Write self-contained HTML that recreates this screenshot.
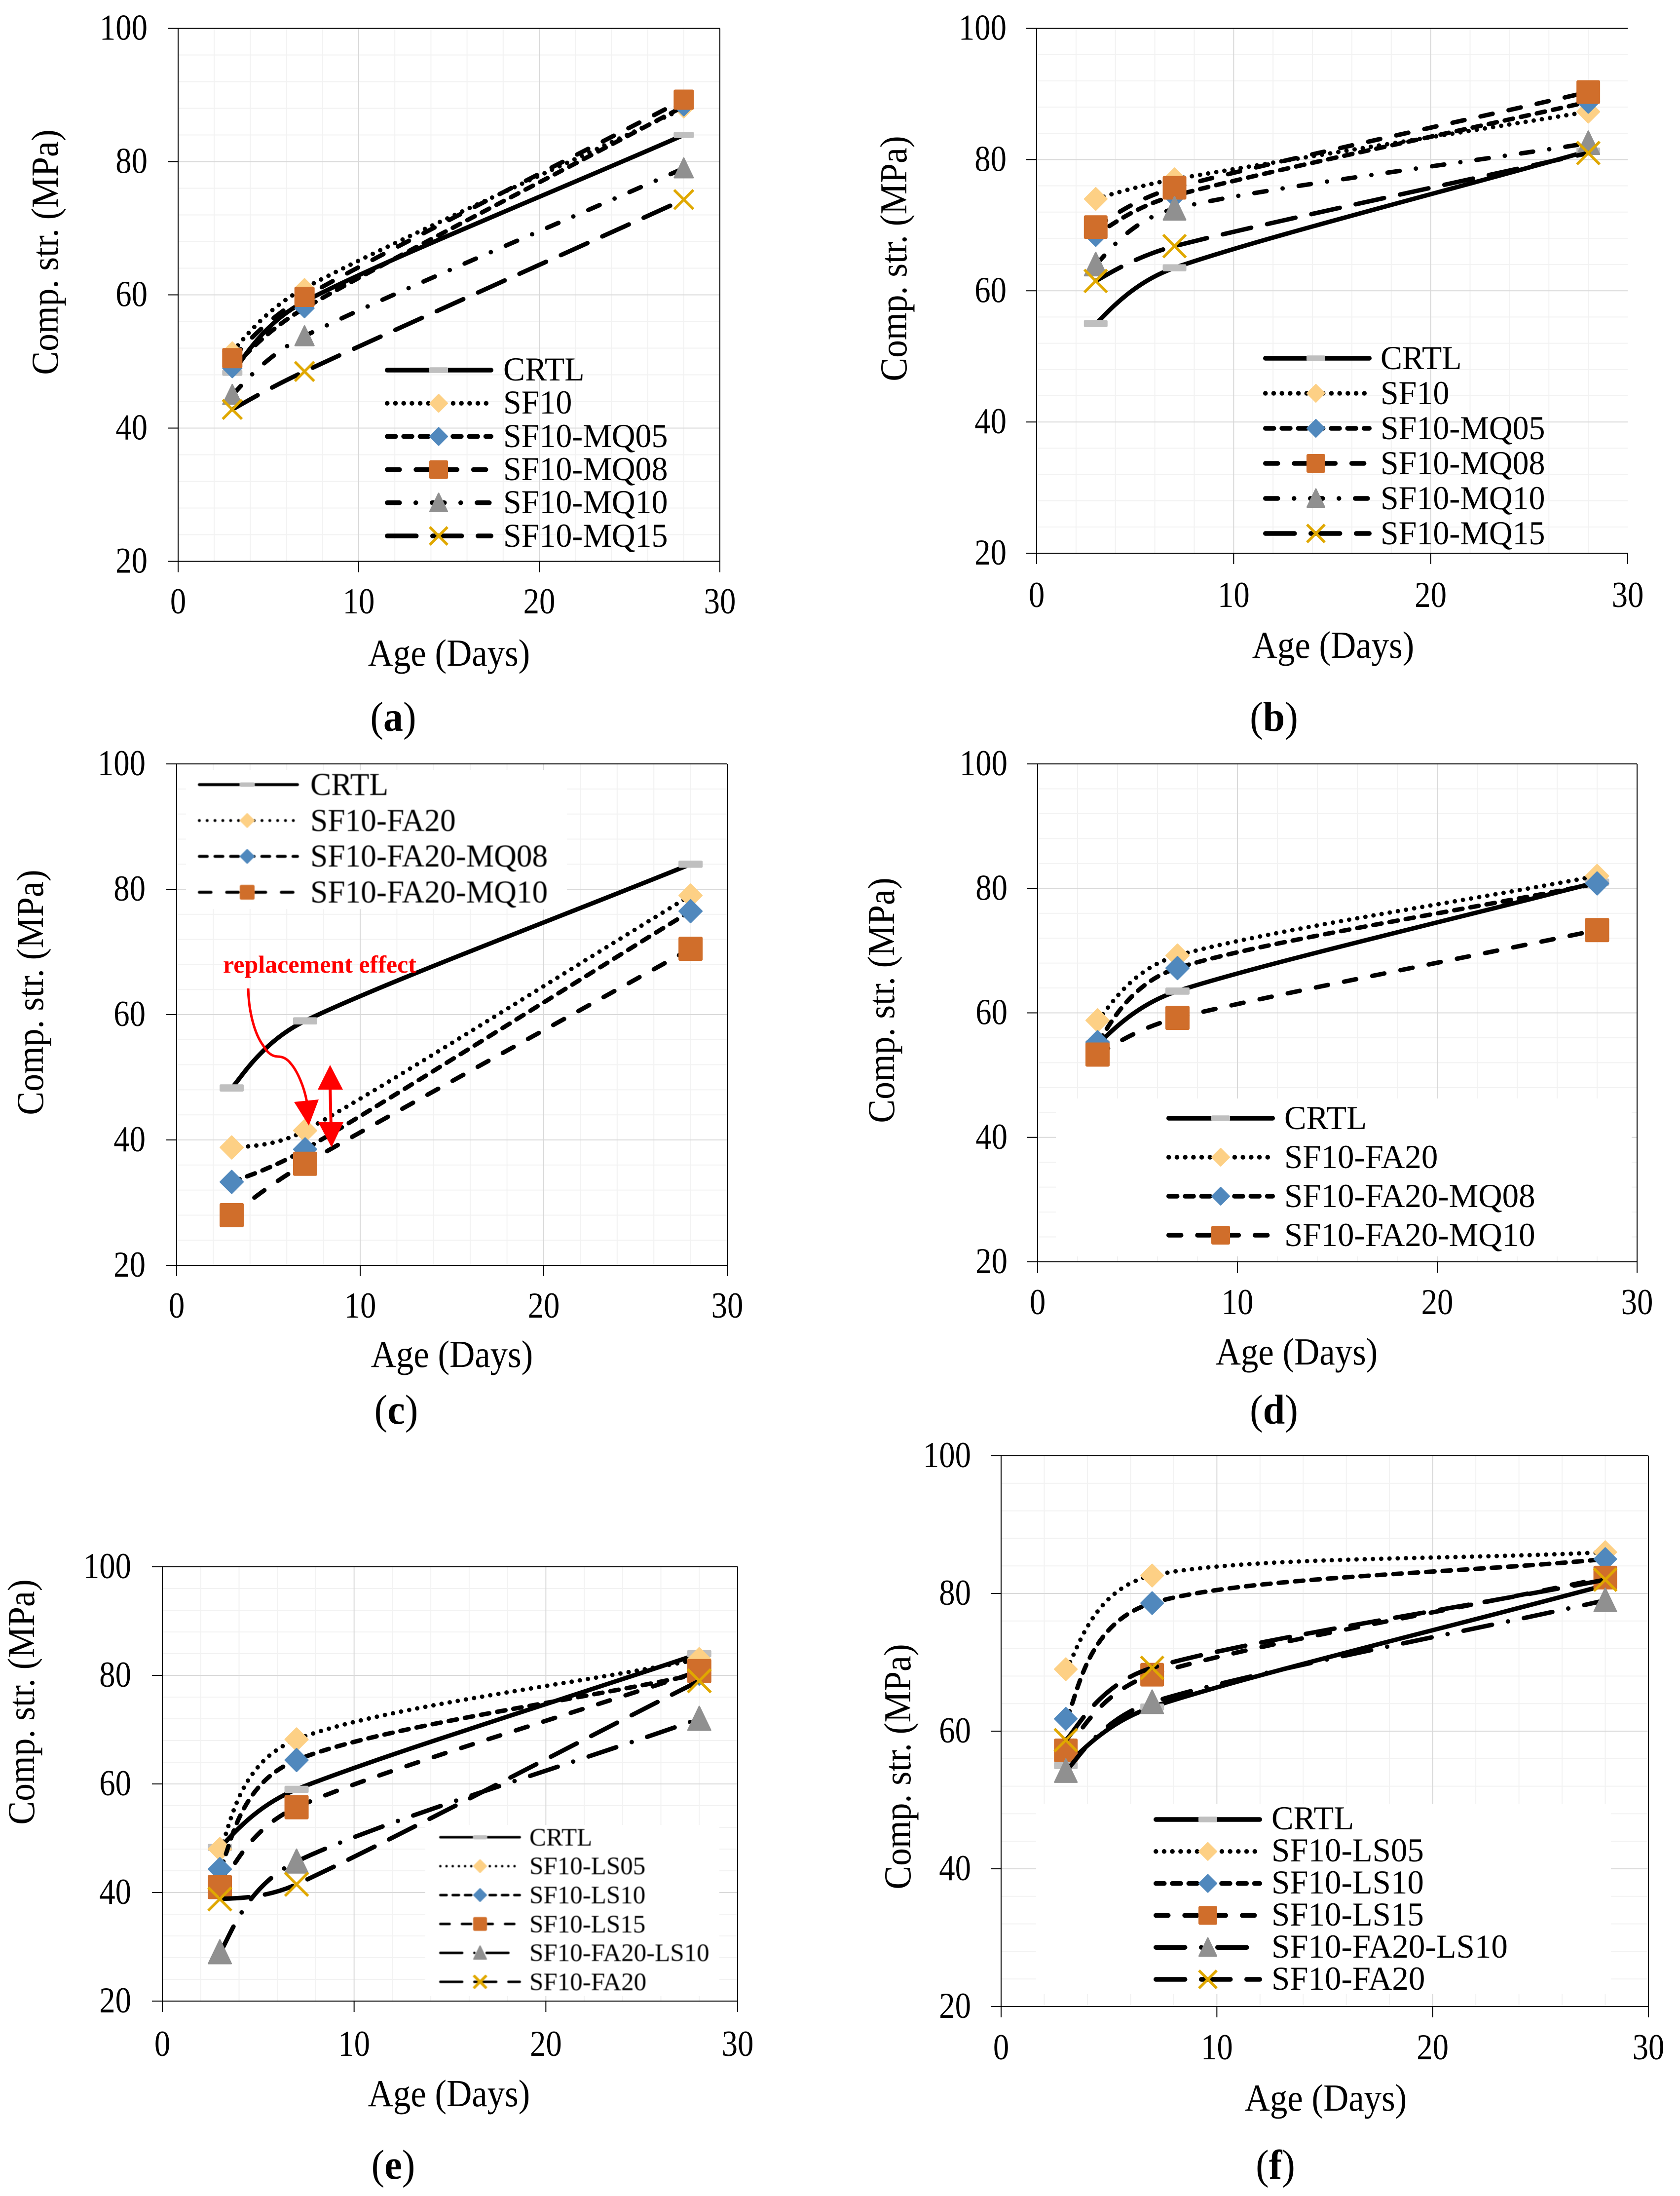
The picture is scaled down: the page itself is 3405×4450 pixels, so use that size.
<!DOCTYPE html>
<html lang="en">
<head>
<meta charset="utf-8">
<title>Compressive strength versus age</title>
<style>
html,body{margin:0;padding:0;background:#fff;}
svg{display:block;font-family:"Liberation Serif",serif;}
</style>
</head>
<body>
<svg id="figure" xmlns="http://www.w3.org/2000/svg" width="3405" height="4450" viewBox="0 0 3405 4450">
  <defs>
    <filter id="soft" x="-5%" y="-5%" width="110%" height="110%"><feGaussianBlur stdDeviation="0.9"/></filter>
  </defs>
  <rect width="3405" height="4450" fill="#ffffff"/>
  <g id="plot-a"></g>
  <g id="plot-b"></g>
  <g id="plot-c"></g>
  <g id="plot-d"></g>
  <g id="plot-e"></g>
  <g id="plot-f"></g>

  <g fill="#000">
    <text transform="translate(910 1349) scale(.92 1)" font-size="77" text-anchor="middle">Age (Days)</text>
    <text transform="translate(117 511) rotate(-90) scale(.93 1)" font-size="77" text-anchor="middle">Comp. str. (MPa)</text>
    <text transform="translate(797 1481) scale(.94 1)" font-size="85" text-anchor="middle">(<tspan font-weight="bold">a</tspan>)</text>
    <g font-size="68" transform="translate(1020 0) scale(.97 1)">
      <text y="771">CRTL</text>
      <text y="838">SF10</text>
      <text y="906">SF10-MQ05</text>
      <text y="973">SF10-MQ08</text>
      <text y="1040">SF10-MQ10</text>
      <text y="1108">SF10-MQ15</text>
    </g>
  </g>

  <g fill="#000">
    <text transform="translate(2702 1333) scale(.92 1)" font-size="77" text-anchor="middle">Age (Days)</text>
    <text transform="translate(1837 524) rotate(-90) scale(.93 1)" font-size="77" text-anchor="middle">Comp. str. (MPa)</text>
    <text transform="translate(2582 1481) scale(.94 1)" font-size="85" text-anchor="middle">(<tspan font-weight="bold">b</tspan>)</text>
    <g font-size="68" transform="translate(2798 0) scale(.97 1)">
      <text y="748">CRTL</text>
      <text y="819">SF10</text>
      <text y="890">SF10-MQ05</text>
      <text y="961">SF10-MQ08</text>
      <text y="1032">SF10-MQ10</text>
      <text y="1103">SF10-MQ15</text>
    </g>
  </g>

  <g fill="#000">
    <text transform="translate(916 2770) scale(.92 1)" font-size="77" text-anchor="middle">Age (Days)</text>
    <text transform="translate(87 2011) rotate(-90) scale(.93 1)" font-size="77" text-anchor="middle">Comp. str. (MPa)</text>
    <text transform="translate(803 2885) scale(.94 1)" font-size="85" text-anchor="middle">(<tspan font-weight="bold">c</tspan>)</text>
    <g font-size="65" transform="translate(629 0) scale(.975 1)" filter="url(#soft)">
      <text y="1611">CRTL</text>
      <text y="1684">SF10-FA20</text>
      <text y="1756">SF10-FA20-MQ08</text>
      <text y="1829">SF10-FA20-MQ10</text>
    </g>
    <text x="452" y="1971" font-size="50" font-weight="bold" fill="#ff0000">replacement effect</text>
  </g>

  <g fill="#000">
    <text transform="translate(2628 2765) scale(.92 1)" font-size="77" text-anchor="middle">Age (Days)</text>
    <text transform="translate(1812 2027) rotate(-90) scale(.93 1)" font-size="77" text-anchor="middle">Comp. str. (MPa)</text>
    <text transform="translate(2582 2885) scale(.94 1)" font-size="85" text-anchor="middle">(<tspan font-weight="bold">d</tspan>)</text>
    <g font-size="68" transform="translate(2603 0) scale(.985 1)">
      <text y="2288">CRTL</text>
      <text y="2367">SF10-FA20</text>
      <text y="2446">SF10-FA20-MQ08</text>
      <text y="2525">SF10-FA20-MQ10</text>
    </g>
  </g>

  <g fill="#000">
    <text transform="translate(910 4268) scale(.92 1)" font-size="77" text-anchor="middle">Age (Days)</text>
    <text transform="translate(69 3449) rotate(-90) scale(.93 1)" font-size="77" text-anchor="middle">Comp. str. (MPa)</text>
    <text transform="translate(797 4415) scale(.94 1)" font-size="85" text-anchor="middle">(<tspan font-weight="bold">e</tspan>)</text>
    <g font-size="51" transform="translate(1073 0)" filter="url(#soft)">
      <text y="3740">CRTL</text>
      <text y="3798">SF10-LS05</text>
      <text y="3857">SF10-LS10</text>
      <text y="3916">SF10-LS15</text>
      <text y="3974">SF10-FA20-LS10</text>
      <text y="4033">SF10-FA20</text>
    </g>
  </g>

  <g fill="#000">
    <text transform="translate(2687 4277) scale(.92 1)" font-size="77" text-anchor="middle">Age (Days)</text>
    <text transform="translate(1845 3580) rotate(-90) scale(.93 1)" font-size="77" text-anchor="middle">Comp. str. (MPa)</text>
    <text transform="translate(2585 4415) scale(.94 1)" font-size="85" text-anchor="middle">(<tspan font-weight="bold">f</tspan>)</text>
    <g font-size="68" transform="translate(2577 0) scale(.985 1)">
      <text y="3707">CRTL</text>
      <text y="3772">SF10-LS05</text>
      <text y="3837">SF10-LS10</text>
      <text y="3902">SF10-LS15</text>
      <text y="3967">SF10-FA20-LS10</text>
      <text y="4032">SF10-FA20</text>
    </g>
  </g>

  <g fill="#ff0000" stroke="none">
    <path d="M503 2003 C504 2050 516 2095 533 2118 C542 2134 552 2141 563 2141 C575 2141 584 2148 590 2156 C602 2170 616 2200 622 2233" fill="none" stroke="#ff0000" stroke-width="5"/>
    <polygon points="626,2281 596,2233 646,2228"/>
    <line x1="669" y1="2200" x2="671" y2="2285" stroke="#ff0000" stroke-width="6"/>
    <polygon points="669,2158 644,2208 695,2208"/>
    <polygon points="672,2325 645,2274 696,2274"/>
  </g>
</svg>

<script>
const days = [3, 7, 28];
const xTickValues = [0, 10, 20, 30];
const yTickValues = [20, 40, 60, 80, 100];

const aCRTL = [48.3, 59, 84];
const aSF10 = [51.5, 61, 88];
const aMQ05 = [49, 58, 88.3];
const aMQ08 = [50.5, 59.7, 89.3];
const aMQ10 = [45, 53.8, 79];
const aMQ15 = [42.8, 48.5, 74.3];

const bCRTL = [55, 63.5, 81.3];
const bSF10 = [74, 77, 87.3];
const bMQ05 = [68.5, 74.5, 88.8];
const bMQ08 = [69.7, 75.7, 90.3];
const bMQ10 = [64, 72.5, 82.5];
const bMQ15 = [61.5, 66.8, 81];

const cCRTL = [48.3, 59, 84];
const cFA20 = [38.8, 41.5, 79];
const cMQ08 = [33.3, 38.5, 76.5];
const cMQ10 = [28, 36.2, 70.5];

const dCRTL = [55, 63.5, 81];
const dFA20 = [58.8, 69.2, 82];
const dMQ08 = [55.3, 67.2, 80.8];
const dMQ10 = [53.3, 59.2, 73.3];

const eCRTL = [48.3, 59, 84];
const eLS05 = [48, 68.2, 83];
const eLS10 = [44.3, 64.4, 80.3];
const eLS15 = [41, 55.7, 80.8];
const eFA20LS10 = [29, 45.7, 72];
const eFA20 = [38.8, 41.5, 79];

const fCRTL = [55, 63.5, 81.2];
const fLS05 = [69, 82.6, 86];
const fLS10 = [61.8, 78.6, 85];
const fLS15 = [57.2, 68.2, 82.3];
const fFA20LS10 = [54.2, 64.2, 79];
const fFA20 = [58.7, 69.2, 82];

const NS = 'http://www.w3.org/2000/svg';
const COLORS = {dash: '#bfbfbf', lightDiamond: '#fdd085', blueDiamond: '#5088bd', square: '#d06e2b', triangle: '#909090', cross: '#e0a800'};
const DASHES = {
  solid: [],
  dot: [0.01, 16.7],
  sysdash: [17, 16.3],
  dash: [25, 33.3],
  dashDot: [25, 33, 0.01, 33],
  longDash: [59, 33],
  longDashDot: [59, 33, 0.01, 33]
};

const panels = [
  {id: 'a', x0: 361, x30: 1459, y100: 57.5, y20: 1137.5, labelRight: 299, xLabelY: 1220, rightBorder: true, markerSize: 41,
   legend: {x1: 780, x2: 1000, marker: 889, y0: 750, dy: 67.2, size: 38, stroke: 9.5, scale: 1, box: null, soft: false},
   series: [
    {name: 'crtl', values: aCRTL, line: 'solid', marker: 'dash'},
    {name: 'sf10', values: aSF10, line: 'dot', marker: 'lightDiamond'},
    {name: 'mq05', values: aMQ05, line: 'sysdash', marker: 'blueDiamond'},
    {name: 'mq08', values: aMQ08, line: 'dash', marker: 'square'},
    {name: 'mq10', values: aMQ10, line: 'dashDot', marker: 'triangle'},
    {name: 'mq15', values: aMQ15, line: 'longDash', marker: 'cross'}]},
  {id: 'b', x0: 2101, x30: 3299, y100: 57.5, y20: 1121, labelRight: 2040, xLabelY: 1207, rightBorder: false, markerSize: 48,
   legend: {x1: 2560, x2: 2780, marker: 2667, y0: 726, dy: 71, size: 38, stroke: 9.5, scale: 1, box: null, soft: false},
   series: [
    {name: 'crtl', values: bCRTL, line: 'solid', marker: 'dash'},
    {name: 'sf10', values: bSF10, line: 'dot', marker: 'lightDiamond'},
    {name: 'mq05', values: bMQ05, line: 'sysdash', marker: 'blueDiamond'},
    {name: 'mq08', values: bMQ08, line: 'dash', marker: 'square'},
    {name: 'mq10', values: bMQ10, line: 'dashDot', marker: 'triangle'},
    {name: 'mq15', values: bMQ15, line: 'longDash', marker: 'cross'}]},
  {id: 'c', x0: 358, x30: 1474, y100: 1548, y20: 2564, labelRight: 295, xLabelY: 2647, rightBorder: true, markerSize: 49,
   legend: {x1: 401, x2: 606, marker: 501, y0: 1590, dy: 72.7, size: 30, stroke: 6, scale: 0.95, box: [377, 1560, 772, 282], soft: true},
   series: [
    {name: 'crtl', values: cCRTL, line: 'solid', marker: 'dash'},
    {name: 'fa20', values: cFA20, line: 'dot', marker: 'lightDiamond'},
    {name: 'mq08', values: cMQ08, line: 'sysdash', marker: 'blueDiamond'},
    {name: 'mq10', values: cMQ10, line: 'dash', marker: 'square'}]},
  {id: 'd', x0: 2103, x30: 3318, y100: 1548, y20: 2557, labelRight: 2042, xLabelY: 2640, rightBorder: true, markerSize: 49,
   legend: {x1: 2364, x2: 2584, marker: 2474, y0: 2266, dy: 79, size: 38, stroke: 9.5, scale: 1, box: [2140, 2226, 1167, 320], soft: false},
   series: [
    {name: 'crtl', values: dCRTL, line: 'solid', marker: 'dash'},
    {name: 'fa20', values: dFA20, line: 'dot', marker: 'lightDiamond'},
    {name: 'mq08', values: dMQ08, line: 'sysdash', marker: 'blueDiamond'},
    {name: 'mq10', values: dMQ10, line: 'dash', marker: 'square'}]},
  {id: 'e', x0: 329, x30: 1495, y100: 3175, y20: 4055, labelRight: 266, xLabelY: 4143, rightBorder: true, markerSize: 49,
   legend: {x1: 890, x2: 1056, marker: 973, y0: 3723, dy: 58.6, size: 28, stroke: 5, scale: 0.75, box: [862, 3698, 596, 347], soft: true},
   series: [
    {name: 'crtl', values: eCRTL, line: 'solid', marker: 'dash'},
    {name: 'ls05', values: eLS05, line: 'dot', marker: 'lightDiamond'},
    {name: 'ls10', values: eLS10, line: 'sysdash', marker: 'blueDiamond'},
    {name: 'ls15', values: eLS15, line: 'dash', marker: 'square'},
    {name: 'fa20-ls10', values: eFA20LS10, line: 'longDashDot', marker: 'triangle'},
    {name: 'fa20', values: eFA20, line: 'longDash', marker: 'cross'}]},
  {id: 'f', x0: 2029, x30: 3341, y100: 2950, y20: 4066, labelRight: 1968, xLabelY: 4150, rightBorder: true, markerSize: 48,
   legend: {x1: 2338, x2: 2558, marker: 2448, y0: 3687, dy: 64.8, size: 38, stroke: 9.5, scale: 1, box: [2100, 3656, 1165, 385], soft: false},
   series: [
    {name: 'crtl', values: fCRTL, line: 'solid', marker: 'dash'},
    {name: 'ls05', values: fLS05, line: 'dot', marker: 'lightDiamond'},
    {name: 'ls10', values: fLS10, line: 'sysdash', marker: 'blueDiamond'},
    {name: 'ls15', values: fLS15, line: 'dash', marker: 'square'},
    {name: 'fa20-ls10', values: fFA20LS10, line: 'longDashDot', marker: 'triangle'},
    {name: 'fa20', values: fFA20, line: 'longDash', marker: 'cross'}]}
];

function make(parent, tag, props) {
  const el = document.createElementNS(NS, tag);
  for (const k in props) el.setAttribute(k, props[k]);
  parent.appendChild(el);
  return el;
}

// Excel-style smoothed line through pixel points
function smoothPath(pts) {
  let d = 'M' + pts[0][0] + ' ' + pts[0][1];
  const dist = (p, q) => Math.hypot(p[0] - q[0], p[1] - q[1]);
  for (let i = 0; i < pts.length - 1; i++) {
    const p0 = pts[Math.max(i - 1, 0)], p1 = pts[i], p2 = pts[i + 1], p3 = pts[Math.min(i + 2, pts.length - 1)];
    const d12 = dist(p1, p2), d02 = dist(p0, p2), d13 = dist(p1, p3);
    let f, g;
    const a = d02 / 6 < d12 / 2, b = d13 / 6 < d12 / 2;
    if (a && b) {
      f = i !== 0 ? 1 / 6 : 1 / 3;
      g = i !== pts.length - 2 ? 1 / 6 : 1 / 3;
    } else if (!a && !b) {
      f = d12 / 2 / d02;
      g = d12 / 2 / d13;
    } else if (!a) {
      f = d12 / 2 / d02;
      g = (d12 / 2 / d13) * (d13 / d02);
    } else {
      f = (d12 / 2 / d02) * (d02 / d13);
      g = d12 / 2 / d13;
    }
    d += ' C' + (p1[0] + f * (p2[0] - p0[0])) + ' ' + (p1[1] + f * (p2[1] - p0[1])) +
         ' ' + (p2[0] - g * (p3[0] - p1[0])) + ' ' + (p2[1] - g * (p3[1] - p1[1])) +
         ' ' + p2[0] + ' ' + p2[1];
  }
  return d;
}

function drawMarker(g, type, cx, cy, size, label) {
  const h = size / 2;
  const r = 1.5;
  let el;
  if (type === 'dash') {
    el = make(g, 'rect', {x: cx - h, y: cy - size * 0.15, width: size, height: size * 0.3, rx: 2.5, fill: COLORS.dash});
  } else if (type === 'lightDiamond' || type === 'blueDiamond') {
    el = make(g, 'polygon', {points: [cx, cy - h + r, cx + h - r, cy, cx, cy + h - r, cx - h + r, cy].join(','), fill: COLORS[type], stroke: COLORS[type], 'stroke-width': r * 2, 'stroke-linejoin': 'round'});
  } else if (type === 'square') {
    el = make(g, 'rect', {x: cx - h, y: cy - h, width: size, height: size, rx: 3, fill: COLORS.square});
  } else if (type === 'triangle') {
    el = make(g, 'polygon', {points: [cx, cy - h * 1.08 + r, cx + h - r, cy + h - r, cx - h + r, cy + h - r].join(','), fill: COLORS.triangle, stroke: COLORS.triangle, 'stroke-width': r * 2, 'stroke-linejoin': 'round'});
  } else {
    el = make(g, 'path', {d: 'M' + (cx - h + 1) + ' ' + (cy - h + 1) + 'L' + (cx + h - 1) + ' ' + (cy + h - 1) + 'M' + (cx + h - 1) + ' ' + (cy - h + 1) + 'L' + (cx - h + 1) + ' ' + (cy + h - 1), fill: 'none', stroke: COLORS.cross, 'stroke-width': 5.5});
  }
  
  
}

function dashAttrs(style, scale) {
  const out = {'stroke-linecap': 'round'};
  const pattern = DASHES[style];
  if (pattern.length) out['stroke-dasharray'] = pattern.map(v => v * scale).join(' ');
  return out;
}

panels.forEach(function (p) {
  const root = document.getElementById('plot-' + p.id);
  const sx = v => p.x0 + (v / 30) * (p.x30 - p.x0);
  const sy = v => p.y20 - ((v - 20) / 80) * (p.y20 - p.y100);

  // minor gridlines
  const minorGrid = make(root, 'g', {stroke: '#f2f2f2', 'stroke-width': 2});
  
  
  for (let v = 2; v < 30; v += 2) {
    if (v % 10 !== 0) make(minorGrid, 'line', {x1: sx(v), x2: sx(v), y1: p.y100, y2: p.y20});
  }
  for (let v = 24; v < 100; v += 4) {
    if (v % 20 !== 0) make(minorGrid, 'line', {x1: p.x0, x2: p.x30, y1: sy(v), y2: sy(v)});
  }

  // major gridlines
  const majorGrid = make(root, 'g', {stroke: '#d9d9d9', 'stroke-width': 2});
  
  
  xTickValues.slice(1, -1).forEach(v => make(majorGrid, 'line', {x1: sx(v), x2: sx(v), y1: p.y100, y2: p.y20}));
  yTickValues.slice(1, -1).forEach(v => make(majorGrid, 'line', {x1: p.x0, x2: p.x30, y1: sy(v), y2: sy(v)}));

  // legend background hides the gridlines under it
  if (p.legend.box) {
    const bg = make(root, 'rect', {x: p.legend.box[0], y: p.legend.box[1], width: p.legend.box[2], height: p.legend.box[3], fill: '#ffffff'});
    
    
  }

  // axes and frame
  const axes = make(root, 'g', {stroke: '#000', 'stroke-width': 2, fill: 'none'});
  
  
  make(axes, 'line', {x1: p.x0, x2: p.x0, y1: p.y100, y2: p.y20});
  make(axes, 'line', {x1: p.x0, x2: p.x30, y1: p.y20, y2: p.y20});
  make(axes, 'line', {x1: p.x0, x2: p.x30, y1: p.y100, y2: p.y100});
  if (p.rightBorder) make(axes, 'line', {x1: p.x30, x2: p.x30, y1: p.y100, y2: p.y20});

  // ticks and tick labels
  xTickValues.forEach(function (v) {
    make(axes, 'line', {x1: sx(v), x2: sx(v), y1: p.y20, y2: p.y20 + 22});
    const t = make(root, 'text', {transform: 'translate(' + sx(v) + ' ' + (p.xLabelY + 23) + ') scale(.875 1)', 'font-size': 74, 'text-anchor': 'middle', fill: '#000'});
    
    
    t.textContent = v;
  });
  yTickValues.forEach(function (v) {
    make(axes, 'line', {x1: p.x0 - 21, x2: p.x0, y1: sy(v), y2: sy(v)});
    const t = make(root, 'text', {transform: 'translate(' + p.labelRight + ' ' + (sy(v) + 23) + ') scale(.875 1)', 'font-size': 74, 'text-anchor': 'end', fill: '#000'});
    
    
    t.textContent = v;
  });

  // series lines and points
  p.series.forEach(function (s, idx) {
    const g = make(root, 'g', {});
    
    
    const pts = days.map((d, i) => [sx(d), sy(s.values[i])]);
    const path = make(g, 'path', Object.assign({d: smoothPath(pts), fill: 'none', stroke: '#000', 'stroke-width': 9}, dashAttrs(s.line, 1)));
    
    
    pts.forEach(function (pt, i) {
      drawMarker(g, s.marker, pt[0], pt[1], p.markerSize, 'point-' + p.id + '-' + s.name + '-day' + days[i]);
    });

    // legend sample
    const ly = p.legend.y0 + idx * p.legend.dy;
    const lg = make(root, 'g', p.legend.soft ? {filter: 'url(#soft)'} : {});
    
    
    const cap = p.legend.stroke / 2;
    const sample = make(lg, 'line', Object.assign({x1: p.legend.x1 + cap, x2: p.legend.x2 - cap, y1: ly, y2: ly + 0.01, stroke: '#000', 'stroke-width': p.legend.stroke}, dashAttrs(s.line, p.legend.scale)));
    
    
    drawMarker(lg, s.marker, p.legend.marker, ly, p.legend.size, 'legend-marker-' + p.id + '-' + s.name);
  });
});
</script>
</body>
</html>
